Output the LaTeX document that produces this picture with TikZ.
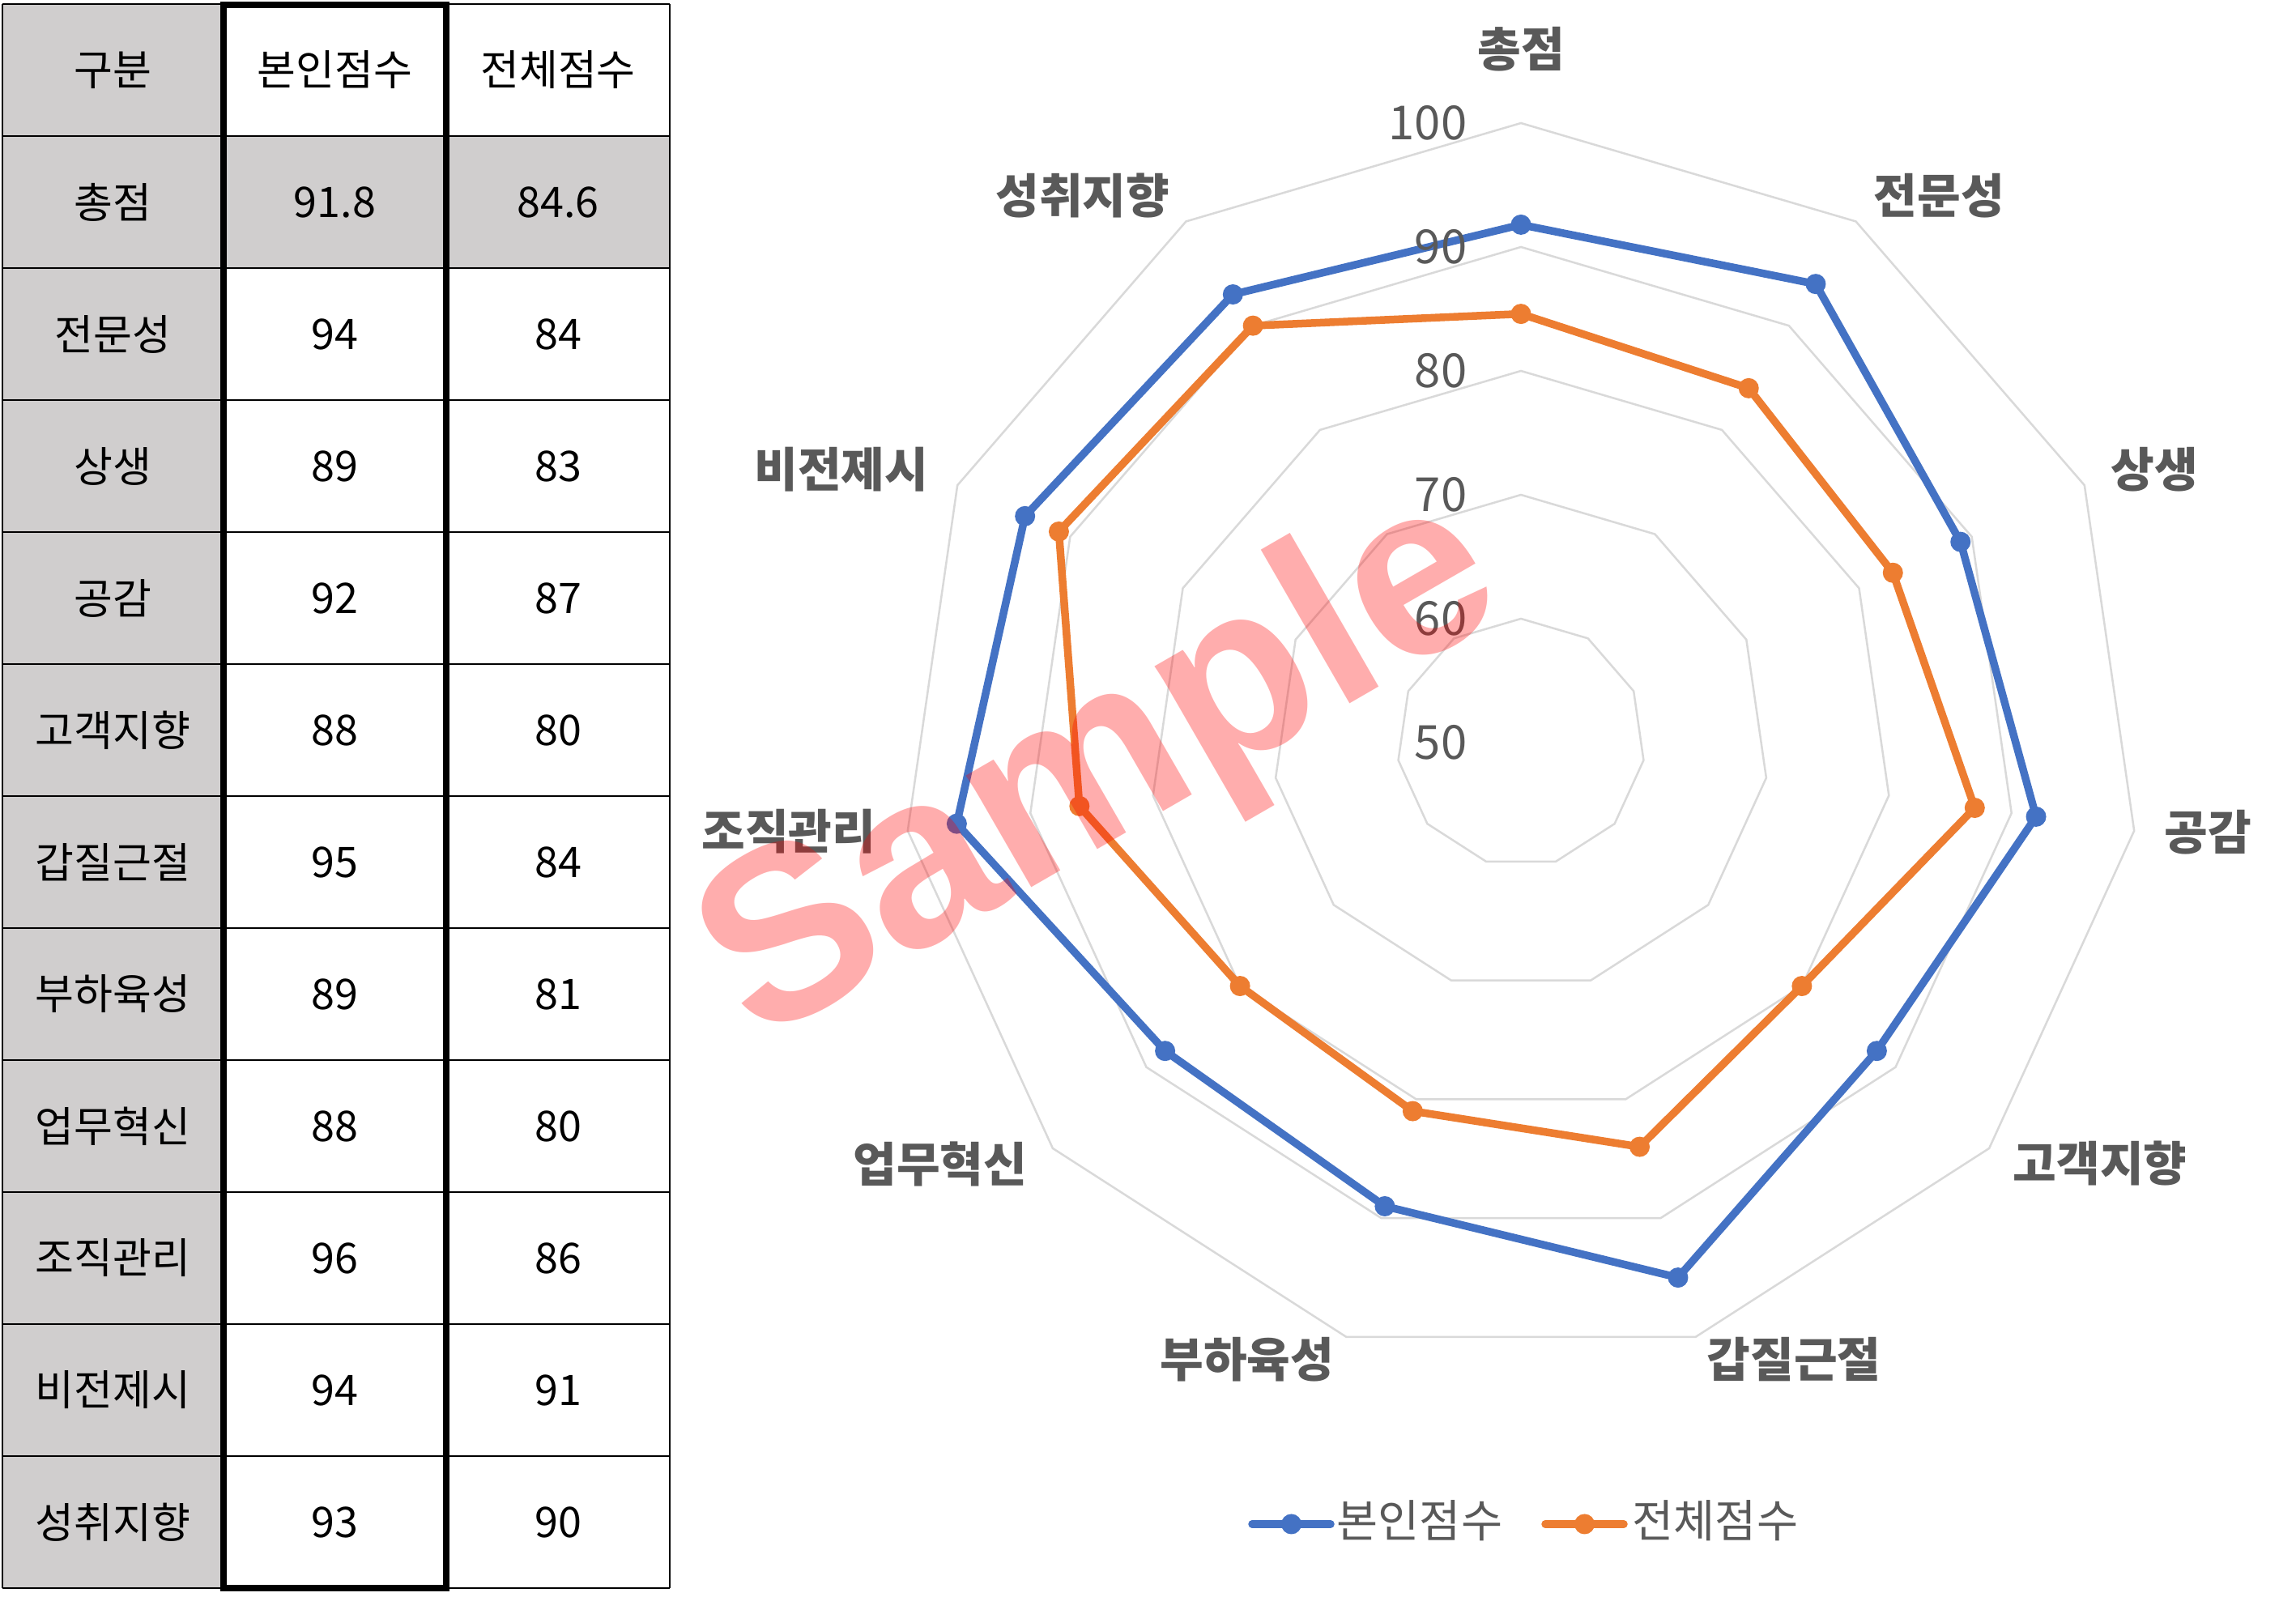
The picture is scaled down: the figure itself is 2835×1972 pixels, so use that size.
\documentclass[tikz,border=0pt]{standalone}
\usepackage{fontspec}
\usetikzlibrary{calc}
\setmainfont{Noto Sans CJK KR}
\newfontfamily\markfont{Liberation Sans}
\definecolor{cellgray}{RGB}{208,206,206}
\definecolor{gridgray}{RGB}{217,217,217}
\definecolor{labelgray}{RGB}{89,89,89}
\definecolor{ownblue}{RGB}{68,114,196}
\definecolor{allorange}{RGB}{237,125,49}
\begin{document}
\begin{tikzpicture}[x=0.01cm, y=0.01cm,
    cell/.style={inner sep=0pt, font=\fontsize{14.8}{17}\selectfont},
    axislabel/.style={inner sep=0pt, text=labelgray, font=\fontsize{16.6}{19}\selectfont\bfseries},
    ringlabel/.style={inner sep=0pt, anchor=east, text=labelgray, font=\fontsize{16.5}{19}\selectfont},
    legendlabel/.style={inner sep=0pt, anchor=west, text=labelgray, font=\fontsize{15.8}{18}\selectfont},
    series/.style={line width=0.095cm, line join=round}]
    \fill[white] (0,0) rectangle (2835,1972);
    \useasboundingbox (0,0) rectangle (2835,1972);

    % table
    \fill[cellgray] (3,1967) rectangle (276,11);
    \fill[cellgray] (276,1804) rectangle (827,1641);
    \foreach \k in {0,...,12}
      \draw[line width=0.02cm] (3,{1967-163*\k}) -- (827,{1967-163*\k});
    \foreach \x in {3,276,551,827}
      \draw[line width=0.02cm] (\x,1967) -- (\x,11);
    \draw[line width=0.08cm] (276,1966) rectangle (551,11);

    \foreach \name/\own/\all [count=\k from 0] in {구분/본인점수/전체점수, 총점/91.8/84.6,
        전문성/94/84, 상생/89/83, 공감/92/87, 고객지향/88/80, 갑질근절/95/84,
        부하육성/89/81, 업무혁신/88/80, 조직관리/96/86, 비전제시/94/91, 성취지향/93/90} {
      \node[cell] (name\k) at (139.5,{1885.5-163*\k}) {\name};
      \node[cell] (own\k) at (413.5,{1885.5-163*\k}) {\own};
      \node[cell] (all\k) at (689,{1885.5-163*\k}) {\all};
    }

    % radar
    \coordinate (c) at (1878,1055);
    \begin{scope}[shift={(c)}]
      \foreach \v in {60,70,80,90,100}
        \draw[gridgray, line width=0.025cm] (90:{(\v-50)*15.3})
          \foreach \k in {1,...,10} { -- ({90-\k*360/11}:{(\v-50)*15.3}) } -- cycle;

      \foreach \v [count=\k from 0] in {91.8,94,89,92,88,95,89,88,96,94,93}
        \coordinate (b\k) at ({90-\k*360/11}:{(\v-50)*15.3});
      \foreach \v [count=\k from 0] in {84.6,84,83,87,80,84,81,80,86,91,90}
        \coordinate (o\k) at ({90-\k*360/11}:{(\v-50)*15.3});

      \draw[series, ownblue] (b0) \foreach \k in {1,...,10} { -- (b\k) } -- cycle;
      \foreach \k in {0,...,10} \fill[ownblue] (b\k) circle (12.5);
      \draw[series, allorange] (o0) \foreach \k in {1,...,10} { -- (o\k) } -- cycle;
      \foreach \k in {0,...,10} \fill[allorange] (o\k) circle (12.5);
    \end{scope}

    \foreach \v in {50,60,...,100}
      \node[ringlabel] (ring\v) at (1812,{1055+(\v-50)*15.3}) {\v};

    \node[axislabel] (ax0) at (1878,1911) {총점};
    \node[axislabel, anchor=west] (ax1) at (2313,1730) {전문성};
    \node[axislabel, anchor=west] (ax2) at (2606,1392) {상생};
    \node[axislabel, anchor=west] (ax3) at (2672,944) {공감};
    \node[axislabel, anchor=west] (ax4) at (2485,535) {고객지향};
    \node[axislabel, anchor=west] (ax5) at (2107,293) {갑질근절};
    \node[axislabel, anchor=east] (ax6) at (1648,293) {부하육성};
    \node[axislabel, anchor=east] (ax7) at (1269,535) {업무혁신};
    \node[axislabel, anchor=east] (ax8) at (1082,945) {조직관리};
    \node[axislabel, anchor=east] (ax9) at (1147,1392) {비전제시};
    \node[axislabel, anchor=east] (ax10) at (1445,1730) {성취지향};

    % legend
    \coordinate (lb1) at (1546,90);
    \coordinate (lb2) at (1643,90);
    \coordinate (lo1) at (1908,90);
    \coordinate (lo2) at (2005,90);
    \draw[series, ownblue, line cap=round] (lb1) -- (lb2);
    \fill[ownblue] ($(lb1)!0.5!(lb2)$) circle (12.5);
    \node[legendlabel] (legown) at (1650,94) {본인점수};
    \draw[series, allorange, line cap=round] (lo1) -- (lo2);
    \fill[allorange] ($(lo1)!0.5!(lo2)$) circle (12.5);
    \node[legendlabel] (legall) at (2015,94) {전체점수};

    % watermark
    \node[inner sep=0pt, anchor=base, rotate=30, text=red, text opacity=0.32,
      font=\markfont\fontsize{86}{92}\selectfont\bfseries] (mark) at (1401,950) {Sample};
  \end{tikzpicture}
\end{document}
